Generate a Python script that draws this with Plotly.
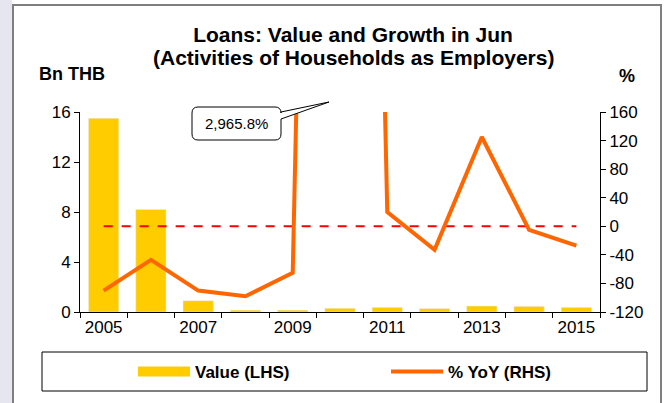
import plotly.graph_objects as go

years = [2005, 2006, 2007, 2008, 2009, 2010, 2011, 2012, 2013, 2014, 2015]
value_lhs = [15.5, 8.2, 0.9, 0.15, 0.15, 0.3, 0.37, 0.27, 0.48, 0.45, 0.37]
yoy_rhs = [-90, -47, -90, -98, -65, 2965.8, 20, -33, 125, -5, -27]
zero_line = [0, 0]
zero_x = [2005, 2015]
x_ticks = [2005, 2007, 2009, 2011, 2013, 2015]
left_ticks = [0, 4, 8, 12, 16]
right_ticks = [-120, -80, -40, 0, 40, 80, 120, 160]
right_labels = ["-120", "-80", "-40", "0", "40", "80", "120", "160"]
title_line1 = "Loans: Value and Growth in Jun"
title_line2 = "(Activities of Households as Employers)"

FONT = "Liberation Sans, Arial, sans-serif"
W, H = 669, 403
L, R, T, B = 80, 600, 112, 312


def px(x):
    return (x - L) / (R - L)


def py(y):
    return (B - y) / (B - T)


fig = go.Figure()

fig.add_trace(go.Bar(
    x=years, y=value_lhs, name="Value (LHS)", marker_color="#FFCC00",
    width=0.64, yaxis="y", showlegend=False, legendgroup="v",
))
# legend swatch for bars (wide gold band)
fig.add_trace(go.Scatter(
    x=[None], y=[None], mode="lines", name="<b>Value (LHS)</b>",
    line=dict(color="#FFCC00", width=12), legendgroup="v",
))
fig.add_trace(go.Scatter(
    x=zero_x, y=zero_line, mode="lines", yaxis="y2", showlegend=False,
    line=dict(color="#FF0000", width=2, dash="dash"), hoverinfo="skip",
))
fig.add_trace(go.Scatter(
    x=years, y=yoy_rhs, mode="lines", name="<b>% YoY (RHS)</b>", yaxis="y2",
    line=dict(color="#FF6600", width=4),
))

# callout shape (rounded box with wedge)
x0, x1, y0, y1, r = 192, 281, 107, 140, 6
tipx, tipy = 329, 102
path = (
    f"M {px(x0 + r)},{py(y0)} "
    f"L {px(x1 - r)},{py(y0)} "
    f"Q {px(x1)},{py(y0)} {px(x1)},{py(y0 + r)} "
    f"L {px(x1)},{py(112)} L {px(tipx)},{py(tipy)} L {px(x1)},{py(119)} "
    f"L {px(x1)},{py(y1 - r)} "
    f"Q {px(x1)},{py(y1)} {px(x1 - r)},{py(y1)} "
    f"L {px(x0 + r)},{py(y1)} "
    f"Q {px(x0)},{py(y1)} {px(x0)},{py(y1 - r)} "
    f"L {px(x0)},{py(y0 + r)} "
    f"Q {px(x0)},{py(y0)} {px(x0 + r)},{py(y0)} Z"
)

shapes = [
    dict(type="rect", xref="paper", yref="paper", x0=px(0), x1=px(12),
         y0=py(403), y1=py(0), fillcolor="#E6E6F0", line_width=0, layer="below"),
    dict(type="rect", xref="paper", yref="paper", x0=px(13), x1=px(661),
         y0=py(410), y1=py(5), fillcolor="rgba(0,0,0,0)",
         line=dict(color="#7F7F7F", width=2), layer="below"),
    dict(type="rect", xref="paper", yref="paper", x0=px(42), x1=px(647),
         y0=py(391), y1=py(352), fillcolor="rgba(0,0,0,0)",
         line=dict(color="#000000", width=1)),
    dict(type="path", xref="paper", yref="paper", path=path,
         fillcolor="white", line=dict(color="black", width=1)),
]

annotations = [
    dict(text="<b>" + title_line2 + "</b>", xref="paper", yref="paper",
         x=px(353), y=py(57), xanchor="center", yanchor="middle",
         showarrow=False, font=dict(family=FONT, size=21, color="black")),
    dict(text="2,965.8%", xref="paper", yref="paper", x=px(236.5), y=py(123.5),
         xanchor="center", yanchor="middle",
         showarrow=False, font=dict(family=FONT, size=15, color="black")),
    dict(text="<b>Bn THB</b>", xref="paper", yref="paper", x=px(72), y=py(74),
         xanchor="center", yanchor="middle",
         showarrow=False, font=dict(family=FONT, size=18, color="black")),
    dict(text="<b>%</b>", xref="paper", yref="paper", x=px(627), y=py(76),
         xanchor="center", yanchor="middle",
         showarrow=False, font=dict(family=FONT, size=18, color="black")),
]

fig.update_layout(
    width=W, height=H,
    margin=dict(l=L, r=W - R, t=T, b=H - B, pad=0, autoexpand=False),
    paper_bgcolor="white", plot_bgcolor="white",
    font=dict(family=FONT, size=17, color="black"),
    title=dict(
        text="<b>" + title_line1 + "</b>",
        x=353 / W, xanchor="center", xref="container",
        y=1 - 35 / H, yanchor="middle", yref="container",
        font=dict(family=FONT, size=21, color="black"),
    ),
    xaxis=dict(
        range=[2004.5, 2015.5], tickvals=x_ticks, ticks="", showgrid=False,
        showline=True, linecolor="black", linewidth=1, zeroline=False,
        tickfont=dict(size=17), automargin=False,
        minor=dict(tickvals=[y - 0.5 for y in years] + [years[-1] + 0.5],
                   ticks="outside", ticklen=5, tickcolor="black", showgrid=False),
    ),
    yaxis=dict(
        range=[0, 16], tickvals=left_ticks, ticks="outside", ticklen=5,
        tickcolor="black", showgrid=False, showline=True, linecolor="black",
        zeroline=False, tickfont=dict(size=17), automargin=False,
    ),
    yaxis2=dict(
        range=[-120, 160], tickvals=right_ticks, ticktext=right_labels,
        ticks="outside", ticklen=5, automargin=False,
        tickcolor="black", showgrid=False, showline=True, linecolor="black",
        zeroline=False, overlaying="y", side="right", tickfont=dict(size=17),
    ),
    legend=dict(
        orientation="h", x=px(386), xanchor="center", y=py(372), yanchor="middle",
        font=dict(family=FONT, size=17, color="black"), itemwidth=52,
        entrywidth=186, entrywidthmode="pixels", bgcolor="rgba(0,0,0,0)",
        traceorder="normal",
    ),
    shapes=shapes, annotations=annotations, bargap=0.36,
)

fig.write_html("out.html", config={"displayModeBar": False},
               post_script="document.body.style.margin='0px';")
